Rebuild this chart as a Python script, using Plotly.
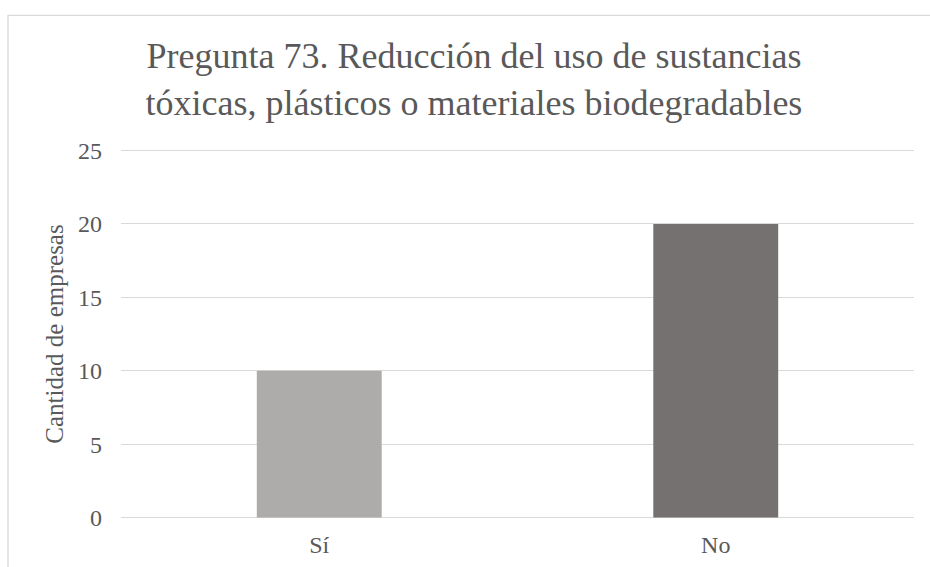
import plotly.graph_objects as go

categorias = ["Sí", "No"]
empresas = [10, 20]
colores = ["#AEABAB", "#767171"]
ticks_y = [0, 5, 10, 15, 20, 25]

W, H = 930, 567
ymin, ymax = -0.1, 25.1
unidad = 368 / 25  # px per unit
ml, mr = 121, 16
mt = 150 - (ymax - 25) * unidad
mb = 49 + ymin * unidad
pw, ph = W - ml - mr, H - mt - mb

fig = go.Figure(
    go.Bar(
        x=categorias,
        y=empresas,
        marker=dict(color=colores, line=dict(width=0)),
        width=0.315,
        hoverinfo="x+y",
    )
)

texto = "#595959"
fuente = "'Liberation Serif', 'Times New Roman', serif"

fig.update_layout(
    width=W,
    height=H,
    margin=dict(l=ml, r=mr, t=mt, b=mb),
    paper_bgcolor="white",
    plot_bgcolor="white",
    showlegend=False,
    font=dict(family=fuente, color=texto, size=24),
    title=dict(
        text="Pregunta 73. Reducción del uso de sustancias<br>tóxicas, plásticos o materiales biodegradables",
        x=474 / W,
        xanchor="center",
        xref="container",
        y=1 - 68 / H,
        yanchor="middle",
        yref="container",
        font=dict(family=fuente, size=36, color=texto),
    ),
    xaxis=dict(
        showgrid=False,
        showline=False,
        ticks="",
        automargin=False,
        ticklabelstandoff=9,
        tickfont=dict(family=fuente, size=24, color=texto),
        zeroline=False,
    ),
    yaxis=dict(
        range=[ymin, ymax],
        tickvals=ticks_y,
        showgrid=True,
        gridcolor="#D9D9D9",
        gridwidth=1.3,
        zeroline=False,
        showline=False,
        ticks="",
        ticklabelstandoff=18,
        tickfont=dict(family=fuente, size=24, color=texto),
        title=dict(text="Cantidad de empresas", font=dict(family=fuente, size=25, color=texto), standoff=7),
    ),
    shapes=[
        dict(
            type="rect",
            xref="paper",
            yref="paper",
            x0=(8 - ml) / pw,
            x1=(W + 5 - ml) / pw,
            y0=(mt + ph - (H + 5)) / ph,
            y1=(mt + ph - 14.5) / ph,
            line=dict(color="#D9D9D9", width=1.3),
            fillcolor="rgba(0,0,0,0)",
            layer="below",
        )
    ],
)

fig.write_html("out.html")
